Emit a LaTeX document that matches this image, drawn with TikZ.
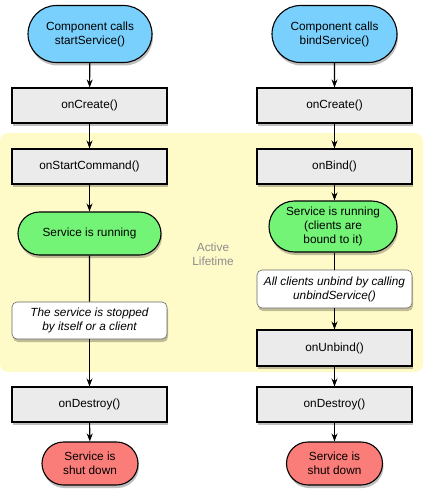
\documentclass[tikz,border=0pt]{standalone}
\usepackage{fontspec}
\setmainfont{Liberation Sans}
\usepackage{xcolor}
\usetikzlibrary{arrows.meta}
\usetikzlibrary{shapes.misc}
\usetikzlibrary{shadows}
\definecolor{callblue}{HTML}{79D0FC}
\definecolor{runsgreen}{HTML}{74F477}
\definecolor{shutred}{HTML}{FA7D79}
\definecolor{stepgray}{HTML}{EBEBEB}
\definecolor{lifeyellow}{HTML}{FFFBC9}
\definecolor{lifetext}{HTML}{8C8C8C}
\tikzset{
    fnode/.style = {align=center, inner sep=0pt, text centered, draw=black, line width=1.1pt,
        font=\fontsize{11.8}{14}\selectfont,
        drop shadow={shadow xshift=1pt, shadow yshift=-3pt, opacity=0.25, fill=black}},
    call_node/.style = {fnode, rounded rectangle, fill=callblue, minimum width=124pt, minimum height=57pt},
    step_node/.style = {fnode, rectangle, fill=stepgray, minimum width=155pt, minimum height=35pt},
    run_node/.style = {fnode, rounded rectangle, fill=runsgreen, minimum height=43pt},
    note_node/.style = {fnode, rectangle, rounded corners=5pt, fill=white, line width=0.6pt, draw=black!60,
        minimum width=155pt, minimum height=37pt, font=\fontsize{11.8}{14}\selectfont\itshape},
    shut_node/.style = {fnode, rounded rectangle, fill=shutred, minimum width=96pt, minimum height=43pt},
    flow/.style = {line width=1.1pt},
    flowarrow/.style = {flow, ->}
}

\begin{document}
\begin{tikzpicture}[x=1pt, y=-1pt, >={Stealth[length=8pt, width=6pt]}]
    \useasboundingbox (0,0) rectangle (427,497);
    % active lifetime area
    \fill [lifeyellow, rounded corners=8pt] (0,133) rectangle (423,372);
    \node [text=lifetext, align=center, font=\fontsize{11.8}{14}\selectfont] (life) at (213,254) {Active\\Lifetime};

    % startService() column
    \node [call_node] (startcall) at (90,34) {Component calls\\startService()};
    \node [step_node] (lcreate) at (89.5,105.5) {onCreate()};
    \node [step_node] (lstart) at (89.5,166.5) {onStartCommand()};
    \node [run_node, minimum width=143pt] (lrun) at (89.5,233.5) {Service is running};
    \node [note_node] (lstop) at (89.5,320.5) {The service is stopped\\by itself or a client};
    \node [step_node] (ldestroy) at (89.5,404.5) {onDestroy()};
    \node [shut_node] (lshut) at (90,463.5) {Service is\\shut down};

    % bindService() column
    \node [call_node, minimum width=125pt] (bindcall) at (334.5,34) {Component calls\\bindService()};
    \node [step_node] (rcreate) at (334.5,105.5) {onCreate()};
    \node [step_node] (rbind) at (334.5,166.5) {onBind()};
    \node [run_node, minimum width=128pt, minimum height=51pt] (rrun) at (333,226.5) {Service is running\\(clients are\\bound to it)};
    \node [note_node, minimum height=38pt] (runbind) at (334.5,289) {All clients unbind by calling\\unbindService()};
    \node [step_node, minimum height=36pt] (ronunbind) at (334.5,348) {onUnbind()};
    \node [step_node] (rdestroy) at (334.5,404.5) {onDestroy()};
    \node [shut_node] (rshut) at (334.5,463.5) {Service is\\shut down};

    \draw [flowarrow] (startcall) -- (lcreate);
    \draw [flowarrow] (lcreate) -- (lstart);
    \draw [flowarrow] (lstart) -- (lrun);
    \draw [flow] (lrun) -- (lstop);
    \draw [flowarrow] (lstop) -- (ldestroy);
    \draw [flowarrow] (ldestroy) -- (lshut);

    \draw [flowarrow] (bindcall) -- (rcreate);
    \draw [flowarrow] (rcreate) -- (rbind);
    \draw [flowarrow] (rbind.south) -- (rbind.south |- rrun.north);
    \draw [flow] (rrun.south -| runbind.north) -- (runbind);
    \draw [flowarrow] (runbind) -- (ronunbind);
    \draw [flowarrow] (ronunbind) -- (rdestroy);
    \draw [flowarrow] (rdestroy) -- (rshut);
\end{tikzpicture}
\end{document}
